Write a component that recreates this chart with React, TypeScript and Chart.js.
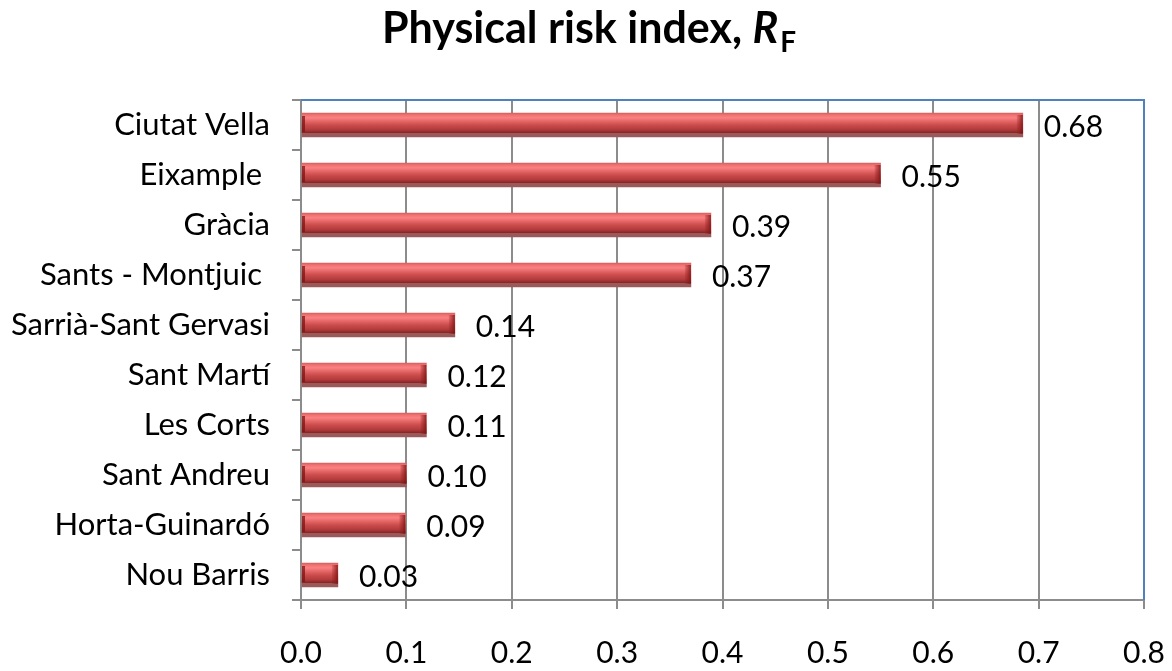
import React, { useEffect, useRef } from "react";
import { Chart, registerables } from "chart.js";

Chart.register(...registerables);

const categories = [
  "Ciutat Vella",
  "Eixample ",
  "Gràcia",
  "Sants - Montjuic ",
  "Sarrià-Sant Gervasi",
  "Sant Martí",
  "Les Corts",
  "Sant Andreu",
  "Horta-Guinardó",
  "Nou Barris",
];
const riskValues = [0.685, 0.55, 0.389, 0.37, 0.146, 0.119, 0.119, 0.1, 0.099, 0.035];
const valueLabels = ["0.68", "0.55", "0.39", "0.37", "0.14", "0.12", "0.11", "0.10", "0.09", "0.03"];
const xMin = 0;
const xMax = 0.8;
const xStep = 0.1;

const FONT = "Lato, 'Open Sans', sans-serif";
const BAR_H = 24;

const titlePlugin = {
  id: "richTitle",
  afterDraw(chart: any) {
    const ctx = chart.ctx;
    ctx.save();
    ctx.fillStyle = "#000";
    ctx.textBaseline = "alphabetic";
    const p1 = "Physical risk index, ";
    const p2 = "R";
    const p3 = "F";
    ctx.font = `bold 43px ${FONT}`;
    const w1 = ctx.measureText(p1).width;
    ctx.font = `italic bold 43px ${FONT}`;
    const w2 = ctx.measureText(p2).width;
    ctx.font = `bold 28px ${FONT}`;
    const w3 = ctx.measureText(p3).width;
    const total = w1 + w2 + w3 + 2;
    let x = 589 - total / 2;
    const y = 43;
    ctx.font = `bold 43px ${FONT}`;
    ctx.fillText(p1, x, y);
    x += w1;
    ctx.font = `italic bold 43px ${FONT}`;
    ctx.fillText(p2, x, y);
    x += w2 + 2;
    ctx.font = `bold 28px ${FONT}`;
    ctx.fillText(p3, x, y + 9);
    ctx.restore();
  },
};

const frameAndLabelsPlugin = {
  id: "frameAndLabels",
  beforeDatasetsDraw(chart: any) {
    const { ctx, chartArea } = chart;
    ctx.save();
    ctx.strokeStyle = "#4F81BD";
    ctx.lineWidth = 2;
    ctx.beginPath();
    ctx.moveTo(chartArea.left, chartArea.top);
    ctx.lineTo(chartArea.right, chartArea.top);
    ctx.lineTo(chartArea.right, chartArea.bottom);
    ctx.stroke();
    ctx.restore();
  },
  afterDatasetsDraw(chart: any) {
    const { ctx } = chart;
    const meta = chart.getDatasetMeta(0);
    ctx.save();
    meta.data.forEach((bar: any, i: number) => {
      const left = bar.base;
      const right = bar.x;
      const top = bar.y - BAR_H / 2;
      const h = BAR_H - 3;
      ctx.fillStyle = "rgba(120,20,20,0.75)";
      ctx.fillRect(left, top + 3, 3, h - 5);
      const capW = Math.min(6, (right - left) / 4);
      const g = ctx.createLinearGradient(right - capW, 0, right, 0);
      g.addColorStop(0, "rgba(150,30,30,0.2)");
      g.addColorStop(1, "rgba(120,20,20,0.85)");
      ctx.fillStyle = g;
      ctx.fillRect(right - capW, top + 2, capW, h - 2);
      ctx.fillStyle = "#000";
      ctx.font = `30px ${FONT}`;
      ctx.textBaseline = "middle";
      ctx.textAlign = "left";
      ctx.fillText(valueLabels[i], right + 21, bar.y + 2);
    });
    ctx.restore();
  },
};

function barFill(context: any) {
  const chart = context.chart;
  const yScale = chart.scales?.y;
  if (!yScale || context.dataIndex === undefined) return "#D05050";
  const yc = yScale.getPixelForValue(context.dataIndex);
  if (!isFinite(yc)) return "#D05050";
  const top = yc - BAR_H / 2;
  const g = chart.ctx.createLinearGradient(0, top, 0, top + BAR_H);
  g.addColorStop(0, "#D85E5E");
  g.addColorStop(0.08, "#F07070");
  g.addColorStop(0.2, "#FA8282");
  g.addColorStop(0.32, "#E86A6A");
  g.addColorStop(0.5, "#CC4C4C");
  g.addColorStop(0.68, "#B43C3C");
  g.addColorStop(0.82, "#8A2626");
  g.addColorStop(0.84, "#9A5A5A");
  g.addColorStop(1, "#9A5A5A");
  return g;
}

export default function App() {
  const ref = useRef<HTMLCanvasElement>(null);
  useEffect(() => {
    if (!ref.current) return;
    const chart = new Chart(ref.current, {
      type: "bar",
      data: {
        labels: categories,
        datasets: [
          {
            data: riskValues,
            backgroundColor: barFill,
            borderWidth: 0,
            barThickness: BAR_H,
          },
        ],
      },
      options: {
        indexAxis: "y",
        animation: false,
        responsive: false,
        layout: { padding: { top: 100, right: 28, left: 0, bottom: 0 } },
        plugins: {
          legend: { display: false },
          tooltip: { enabled: false },
          title: { display: false },
        },
        scales: {
          x: {
            min: xMin,
            max: xMax,
            ticks: {
              stepSize: xStep,
              padding: 26,
              color: "#000",
              font: { family: FONT, size: 30 },
              callback: (v: any) => Number(v).toFixed(1),
            },
            grid: {
              color: "#8C8C8C",
              lineWidth: 2,
              tickLength: 9,
            },
            border: { color: "#8C8C8C", width: 2 },
            afterFit: (s: any) => {
              s.height = 71;
              s.paddingLeft = 0;
              s.paddingRight = 0;
            },
          },
          y: {
            ticks: {
              padding: 22,
              color: "#000",
              font: { family: FONT, size: 31 },
              autoSkip: false,
            },
            grid: {
              offset: true,
              color: "#8C8C8C",
              lineWidth: 2,
              tickLength: 9,
              drawOnChartArea: false,
            },
            border: { color: "#8C8C8C", width: 2 },
            afterFit: (s: any) => {
              s.width = 301;
              s.paddingTop = 0;
              s.paddingBottom = 0;
            },
          },
        },
      },
      plugins: [titlePlugin, frameAndLabelsPlugin],
    });
    return () => chart.destroy();
  }, []);
  return (
    <div style={{ position: "absolute", left: 0, top: 0, width: 1172, height: 671, background: "#fff" }}>
      <canvas ref={ref} width={1172} height={671} />
    </div>
  );
}
